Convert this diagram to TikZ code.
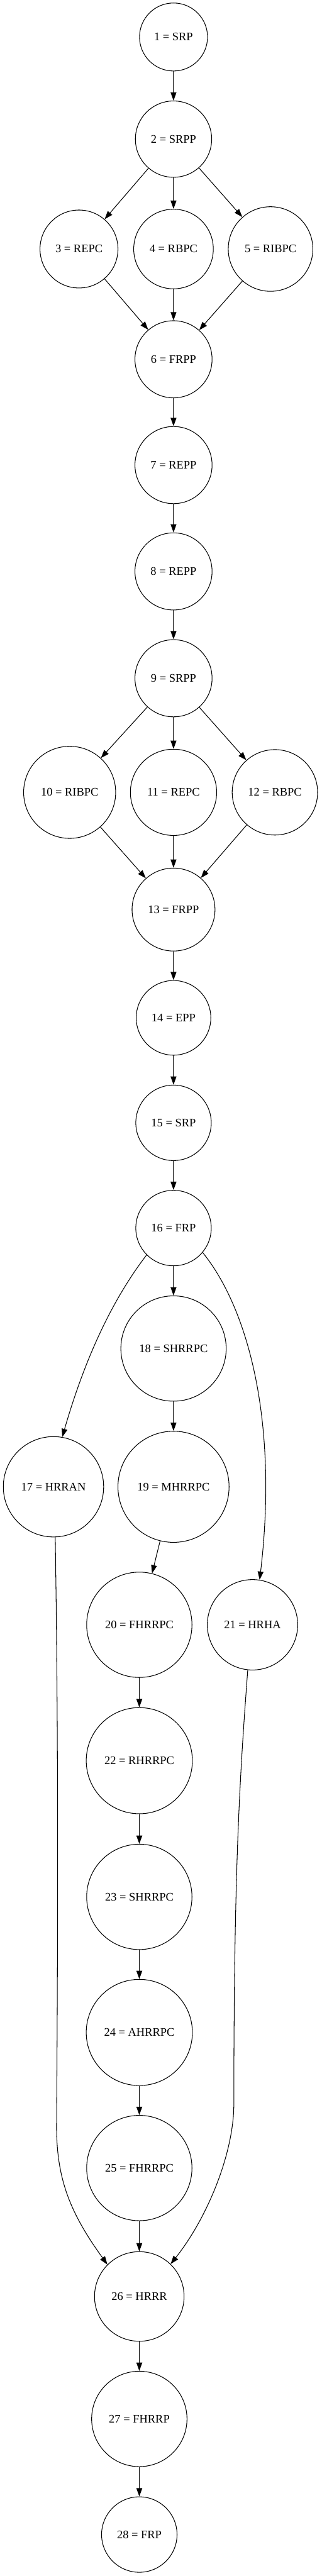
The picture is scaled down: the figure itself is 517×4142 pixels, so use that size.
\documentclass[tikz,border=0pt]{standalone}
\usepackage{fontspec}
\setmainfont{Liberation Serif}
\usetikzlibrary{arrows.meta}

\begin{document}
\begin{tikzpicture}[x=0.75pt,y=-0.75pt,
        stage/.style={shape=circle,draw=black,line width=0.8pt,inner sep=0pt,
                      font=\fontsize{14pt}{16pt}\selectfont},
        >={Triangle[length=10pt,width=7pt]},
        line width=0.8pt]
        \path[use as bounding box,fill=white] (0,0) rectangle (517,4142);

        \node[stage,minimum size=82pt]  (N1)  at (279,59.5)   {1 = SRP};
        \node[stage,minimum size=92pt]  (N2)  at (279,223.7)  {2 = SRPP};
        \node[stage,minimum size=94pt]  (N3)  at (127,400.4)  {3 = REPC};
        \node[stage,minimum size=96pt]  (N4)  at (279,400.4)  {4 = RBPC};
        \node[stage,minimum size=102pt] (N5)  at (435,400.4)  {5 = RIBPC};
        \node[stage,minimum size=93pt]  (N6)  at (279,577.7)  {6 = FRPP};
        \node[stage,minimum size=93pt]  (N7)  at (279,747.8)  {7 = REPP};
        \node[stage,minimum size=93pt]  (N8)  at (279,918.8)  {8 = REPP};
        \node[stage,minimum size=93pt]  (N9)  at (279,1090.6) {9 = SRPP};
        \node[stage,minimum size=111pt] (N10) at (112,1274)   {10 = RIBPC};
        \node[stage,minimum size=104pt] (N11) at (279,1274)   {11 = REPC};
        \node[stage,minimum size=103pt] (N12) at (442,1274)   {12 = RBPC};
        \node[stage,minimum size=100pt] (N13) at (279,1462.5) {13 = FRPP};
        \node[stage,minimum size=90pt]  (N14) at (279,1636.6) {14 = EPP};
        \node[stage,minimum size=91pt]  (N15) at (279,1805.4) {15 = SRP};
        \node[stage,minimum size=91pt]  (N16) at (279,1974.6) {16 = FRP};
        \node[stage,minimum size=121pt] (N17) at (86,2390.6)  {17 = HRRAN};
        \node[stage,minimum size=127pt] (N18) at (279,2168.3) {18 = SHRRPC};
        \node[stage,minimum size=134pt] (N19) at (279,2390.6) {19 = MHRRPC};
        \node[stage,minimum size=127pt] (N20) at (224,2612.5) {20 = FHRRPC};
        \node[stage,minimum size=109pt] (N21) at (406,2612.5) {21 = HRHA};
        \node[stage,minimum size=128pt] (N22) at (224,2831)   {22 = RHRRPC};
        \node[stage,minimum size=127pt] (N23) at (224,3050)   {23 = SHRRPC};
        \node[stage,minimum size=128pt] (N24) at (224,3268)   {24 = AHRRPC};
        \node[stage,minimum size=127pt] (N25) at (224,3486)   {25 = FHRRPC};
        \node[stage,minimum size=108pt] (N26) at (224,3692.5) {26 = HRRR};
        \node[stage,minimum size=115pt] (N27) at (224,3889.4) {27 = FHRRP};
        \node[stage,minimum size=91pt]  (N28) at (224,4075.3) {28 = FRP};

        \path [->](N1) edge (N2);
        \path [->](N2) edge (N3);
        \path [->](N2) edge (N4);
        \path [->](N2) edge (N5);
        \path [->](N3) edge (N6);
        \path [->](N4) edge (N6);
        \path [->](N5) edge (N6);
        \path [->](N6) edge (N7);
        \path [->](N7) edge (N8);
        \path [->](N8) edge (N9);
        \path [->](N9) edge (N10);
        \path [->](N9) edge (N11);
        \path [->](N9) edge (N12);
        \path [->](N10) edge (N13);
        \path [->](N11) edge (N13);
        \path [->](N12) edge (N13);
        \path [->](N13) edge (N14);
        \path [->](N14) edge (N15);
        \path [->](N15) edge (N16);
        \path [->](N16) edge (N18);
        \path [->](N18) edge (N19);
        \path [->](N19) edge (N20);
        \path [->](N20) edge (N22);
        \path [->](N22) edge (N23);
        \path [->](N23) edge (N24);
        \path [->](N24) edge (N25);
        \path [->](N25) edge (N26);
        \path [->](N26) edge (N27);
        \path [->](N27) edge (N28);

        % long curved edges
        \draw [->](N16.225) .. controls (168,2106) and (128,2214) .. (N17.80);
        \draw [->](N16.-40) .. controls (401.6,2107.4) and (447,2292.5) .. (N21.81);
        \draw [->](N17.-88) .. controls (94,2800) and (93,3100) .. (91,3420)
                 .. controls (91,3507) and (115,3561) .. (N26.135);
        \draw [->](N21.-96) .. controls (386,2850) and (376,3000) .. (376,3383)
                 .. controls (376,3463) and (332.8,3566.9) .. (N26.46);
    \end{tikzpicture}
\end{document}
